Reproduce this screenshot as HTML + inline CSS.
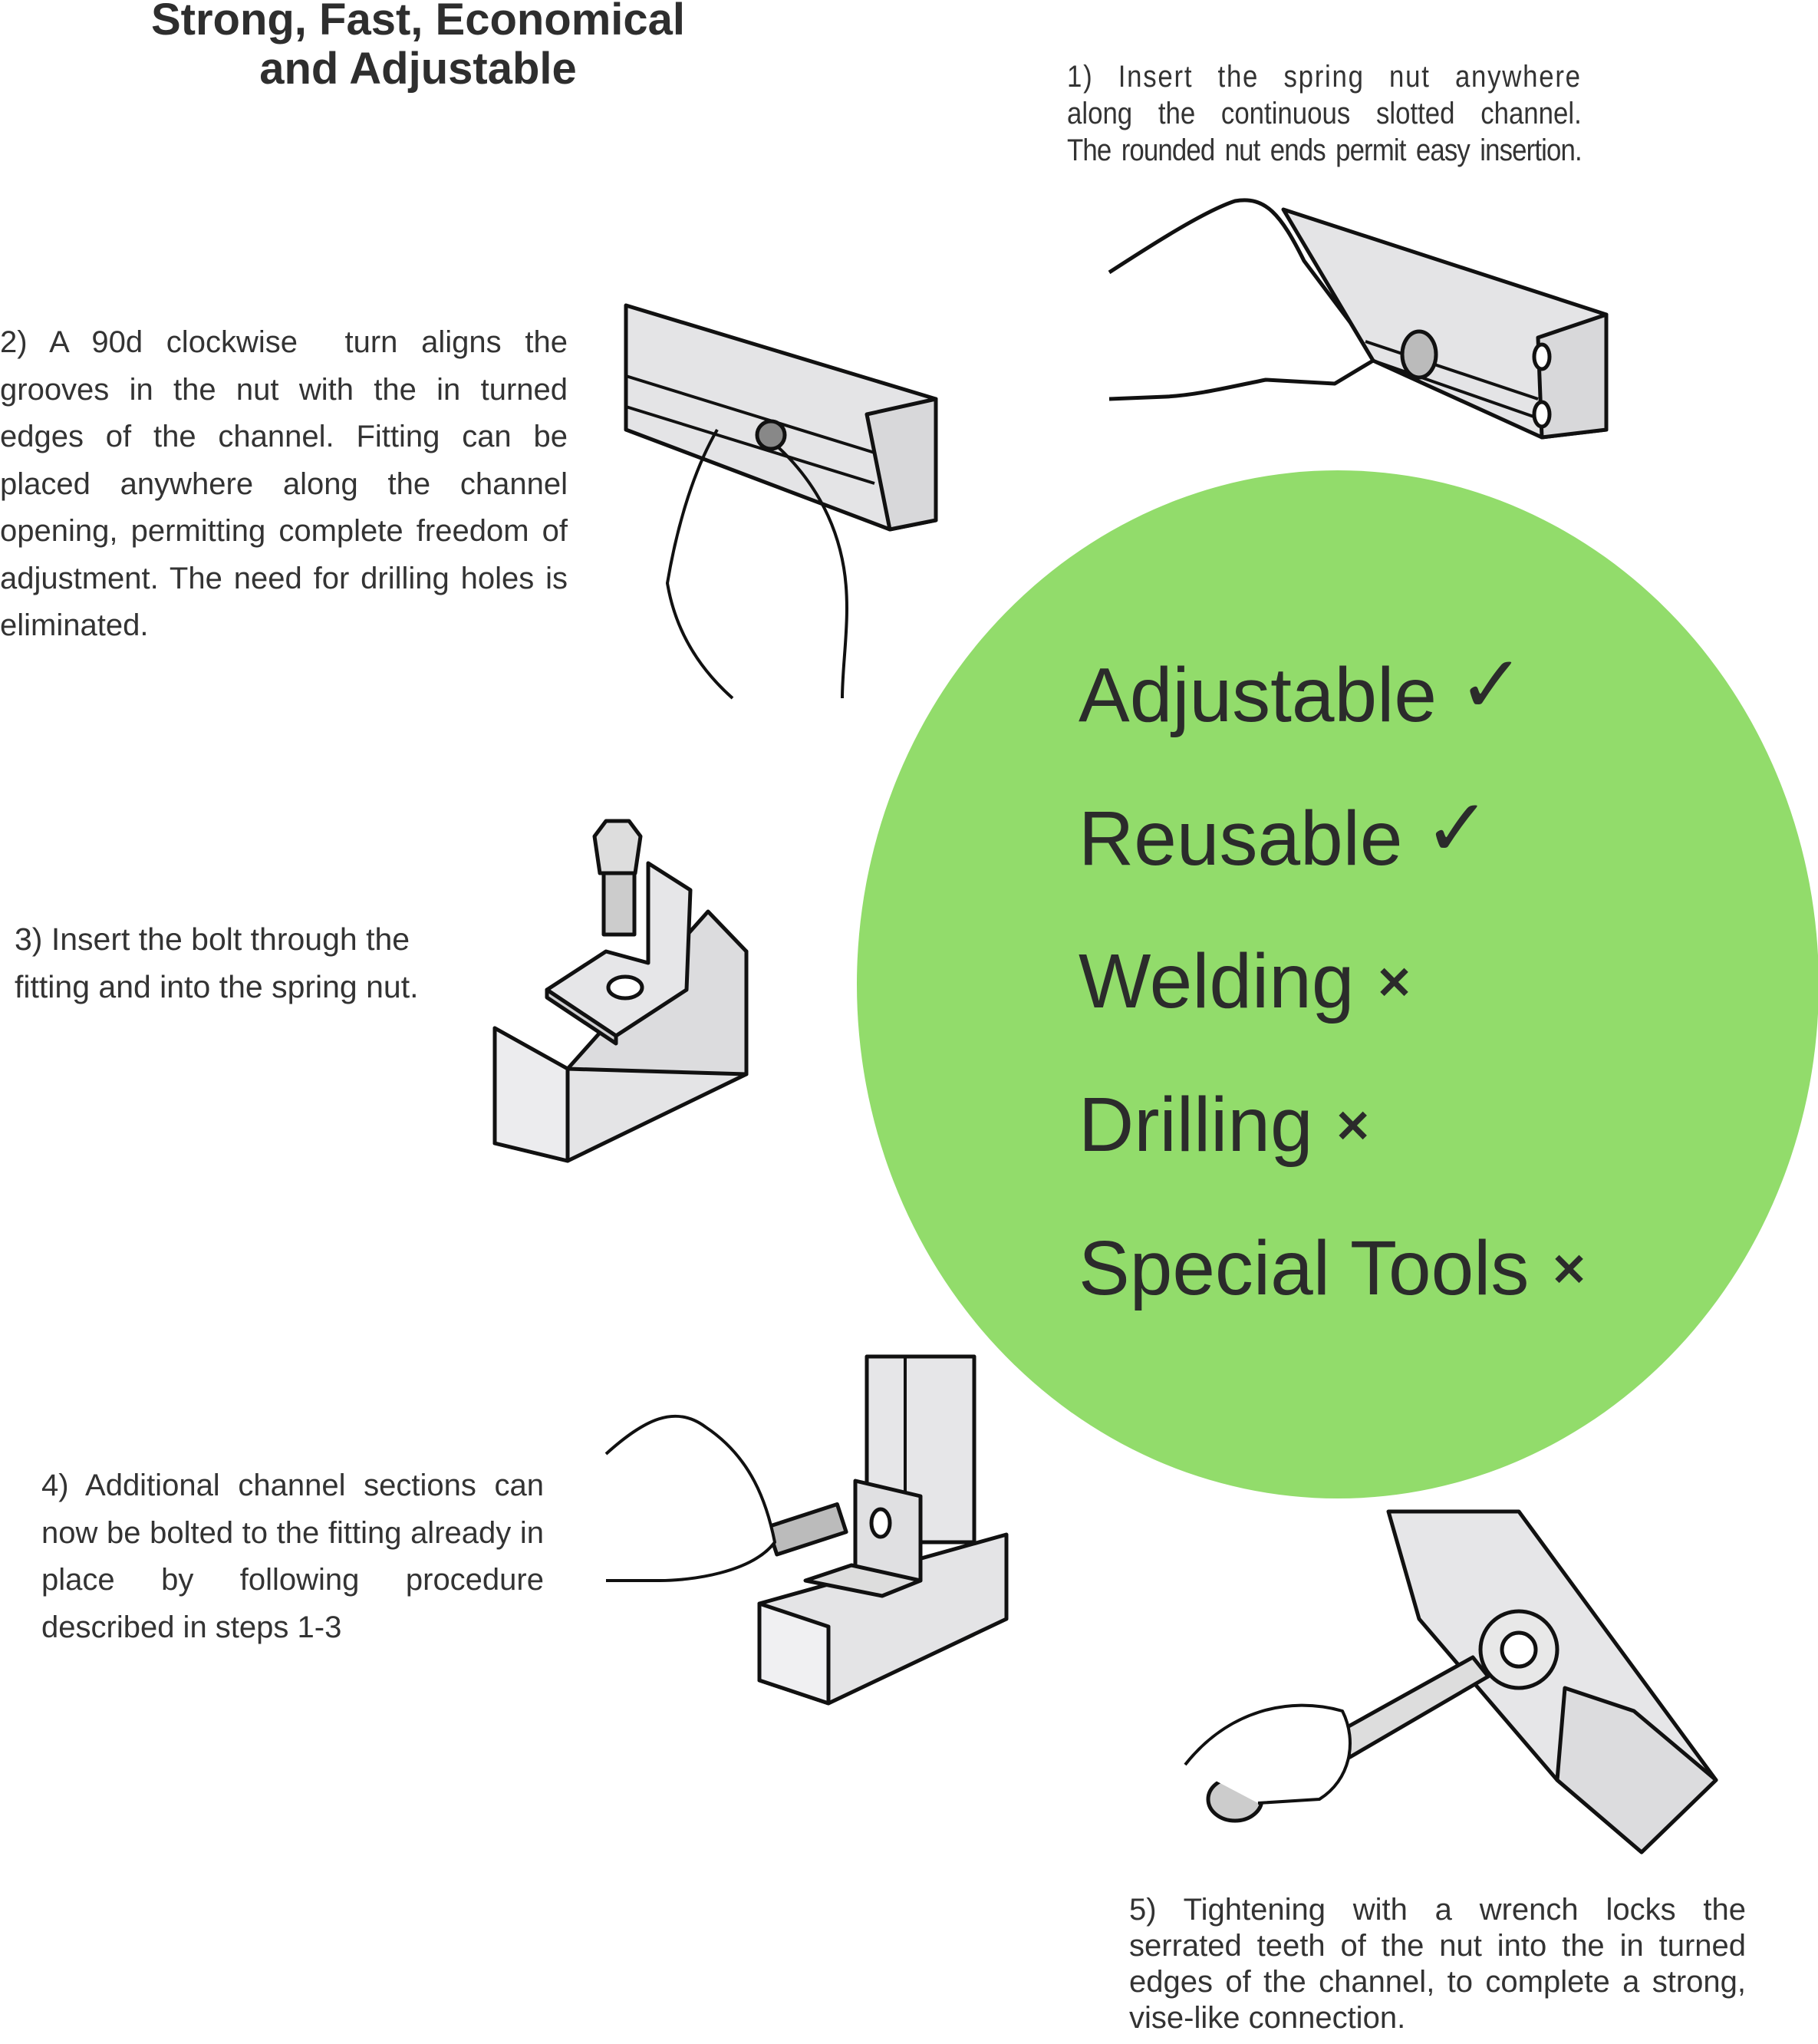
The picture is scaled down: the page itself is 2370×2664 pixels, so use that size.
<!DOCTYPE html>
<html><head><meta charset="utf-8">
<style>
html,body{margin:0;padding:0;background:#fff;}
body{width:2370px;height:2664px;position:relative;overflow:hidden;font-family:"Liberation Sans",sans-serif;color:#333;}
.t{position:absolute;}
.title{left:100px;width:890px;top:-6px;text-align:center;font-weight:bold;font-size:58px;line-height:64px;color:#2e2e2e;}
.j{text-align:justify;text-align-last:justify;white-space:nowrap;}
.p{font-size:40px;line-height:61.5px;color:#333;}
.p div{text-align:justify;text-align-last:justify;white-space:nowrap;}
.p div.l{text-align-last:left;}
.n{font-size:40px;line-height:48px;transform-origin:0 0;transform:scaleX(0.87);}
.big{position:absolute;left:1406px;font-size:100px;color:#2b2b2b;line-height:100px;white-space:nowrap;}
.ck{font-size:104px;position:relative;top:-12px;}
.x{font-size:58px;font-weight:bold;position:relative;top:-12px;}
svg{position:absolute;left:0;top:0;}
</style></head><body>
<svg width="2370" height="2664" viewBox="0 0 2370 2664">
<ellipse cx="1744" cy="1283" rx="627" ry="670" fill="#92dc6b"/>
<g stroke="#111" stroke-width="5" fill="#e4e4e6" stroke-linejoin="round">
<polygon points="1673,273 2094,410 2094,560 2010,570 1790,470"/>
<polygon points="2005,440 2094,410 2094,560 2010,570" fill="#d8d8da"/>
<line x1="1780" y1="445" x2="2005" y2="520" stroke-width="4"/>
<line x1="1790" y1="470" x2="2005" y2="545" stroke-width="4"/>
<path d="M1446,355 C1500,320 1570,275 1610,262 C1650,255 1670,280 1700,340 L1760,420 L1790,470 L1740,500 L1650,495 C1600,505 1560,515 1520,517 L1446,520" fill="#fff"/>
<ellipse cx="1850" cy="462" rx="22" ry="30" fill="#bbb"/>
<ellipse cx="2010" cy="465" rx="10" ry="16" fill="#fff"/>
<ellipse cx="2010" cy="540" rx="10" ry="16" fill="#fff"/>
<polygon points="816,398 1220,520 1220,678 1160,690 816,560"/>
<polygon points="1130,540 1220,520 1220,678 1160,690" fill="#d8d8da"/>
<line x1="816" y1="490" x2="1140" y2="590" stroke-width="4"/>
<line x1="816" y1="530" x2="1140" y2="630" stroke-width="4"/>
<path d="M935,560 C900,620 880,700 870,760 C880,820 910,870 955,910 M1000,570 C1060,620 1090,680 1100,740 C1110,800 1098,860 1098,910" fill="none" stroke-width="4"/>
<circle cx="1005" cy="567" r="18" fill="#888"/>
<polygon points="645,1340 740,1393 973,1240 973,1400 740,1513 645,1490"/>
<polygon points="645,1340 740,1393 740,1513 645,1490" fill="#ececee"/>
<polygon points="740,1393 923,1188 973,1240 973,1400" fill="#dcdcde"/>
<polygon points="713,1290 803,1350 895,1290 900,1160 845,1125 845,1255 790,1240" fill="#e6e6e8"/>
<polygon points="713,1290 803,1350 803,1360 713,1300" fill="#cfcfd1"/>
<ellipse cx="815" cy="1287" rx="22" ry="14" fill="#fff"/>
<rect x="787" y="1138" width="40" height="80" fill="#ccc"/>
<polygon points="775,1090 790,1070 820,1070 835,1090 828,1138 782,1138" fill="#ddd"/>
<polygon points="1130,1768 1270,1768 1270,2010 1130,2010" fill="#e6e6e8"/>
<line x1="1180" y1="1768" x2="1180" y2="1990" stroke-width="4"/>
<polygon points="990,2090 1312,2000 1312,2110 1080,2220 990,2190"/>
<polygon points="990,2090 1080,2120 1080,2220 990,2190" fill="#f0f0f2"/>
<polygon points="1115,1930 1200,1950 1200,2060 1115,2050" fill="#e0e0e2"/>
<polygon points="1050,2060 1150,2080 1200,2060 1110,2040" fill="#ddd"/>
<ellipse cx="1148" cy="1985" rx="12" ry="18" fill="#fff"/>
<rect x="1005" y="1975" width="95" height="38" fill="#bbb" transform="rotate(-18 1050 1995)"/>
<path d="M790,1895 C840,1850 880,1830 920,1860 C980,1900 1000,1960 1010,2010 C980,2050 900,2060 860,2060 L790,2060" fill="#fff" stroke-width="4"/>
<polygon points="1810,1970 1980,1970 2237,2320 2140,2414 2030,2320 1850,2110" fill="#e6e6e8"/>
<polygon points="2040,2200 2130,2230 2237,2320 2140,2414 2030,2320" fill="#dcdcde"/>
<polygon points="1600,2330 1740,2260 1920,2160 1940,2185 1760,2290 1620,2355" fill="#ddd"/>
<circle cx="1980" cy="2150" r="50" fill="#e8e8e8"/>
<circle cx="1980" cy="2150" r="22" fill="#fff"/>
<ellipse cx="1610" cy="2345" rx="35" ry="28" fill="#ccc"/>
<path d="M1545,2300 C1600,2230 1680,2210 1750,2230 C1770,2270 1760,2320 1720,2345 L1640,2350" fill="#fff" stroke-width="4"/>
</g>
</svg>
<div class="t title">Strong, Fast, Economical<br>and Adjustable</div>
<div class="t n" style="left:1391px;top:76px;width:771px;">
<div class="j" style="letter-spacing:2px">1) Insert the spring nut anywhere</div>
<div class="j">along the continuous slotted channel.</div>
<div class="j" style="letter-spacing:-1px">The rounded nut ends permit easy insertion.</div>
</div>
<div class="t p" style="left:0;top:416px;width:740px;">
<div>2) A 90d clockwise &nbsp;turn aligns the</div>
<div>grooves in the nut with the in turned</div>
<div>edges of the channel. Fitting can be</div>
<div>placed anywhere along the channel</div>
<div>opening, permitting complete freedom of</div>
<div>adjustment. The need for drilling holes is</div>
<div class="l">eliminated.</div>
</div>
<div class="t p" style="left:19px;top:1194px;width:580px;font-size:41px;">
<div class="l">3) Insert the bolt through the</div>
<div class="l">fitting and into the spring nut.</div>
</div>
<div class="t p" style="left:54px;top:1906px;width:655px;">
<div>4) Additional channel sections can</div>
<div>now be bolted to the fitting already in</div>
<div>place by following procedure</div>
<div class="l">described in steps 1-3</div>
</div>
<div class="t p" style="left:1472px;top:2466px;width:804px;line-height:47px;">
<div>5) Tightening with a wrench locks the</div>
<div>serrated teeth of the nut into the in turned</div>
<div>edges of the channel, to complete a strong,</div>
<div class="l">vise-like connection.</div>
</div>
<div class="big" style="top:855px">Adjustable <span class="ck">✓</span></div>
<div class="big" style="top:1042px">Reusable <span class="ck">✓</span></div>
<div class="big" style="top:1229px">Welding <span class="x">✕</span></div>
<div class="big" style="top:1416px">Drilling <span class="x">✕</span></div>
<div class="big" style="top:1603px">Special Tools <span class="x">✕</span></div>
</body></html>
